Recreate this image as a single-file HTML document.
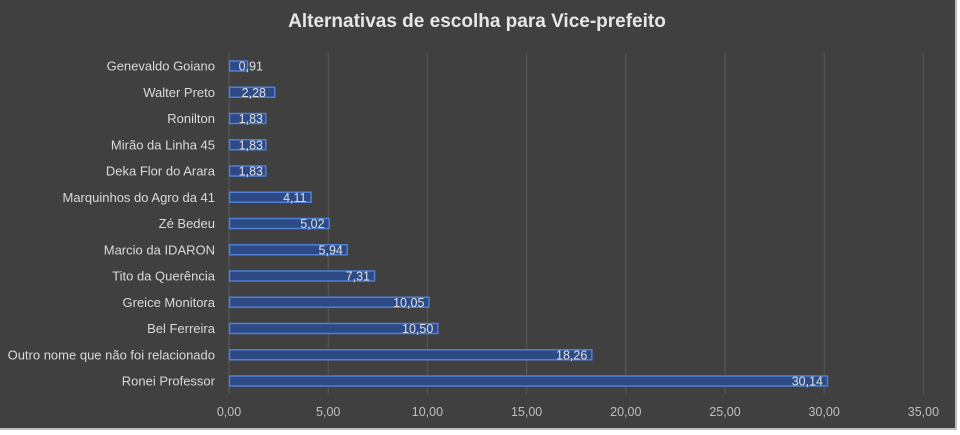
<!DOCTYPE html>
<html><head><meta charset="utf-8"><style>
html,body{margin:0;padding:0;background:#fff;}
svg{display:block;font-family:"Liberation Sans",sans-serif;}
</style></head><body>
<svg width="960" height="435" viewBox="0 0 960 435">
<rect x="0" y="0" width="956" height="429" fill="#404040"/>
<rect x="955" y="0" width="2" height="430" fill="#bfbfbf"/>
<rect x="0" y="428" width="957" height="2" fill="#bfbfbf"/>
<text x="477" y="27" text-anchor="middle" font-size="19" font-weight="bold" fill="#e6e6e6">Alternativas de escolha para Vice-prefeito</text>
<g stroke="#5a5a5a" stroke-width="1">
<line x1="229" y1="53" x2="229" y2="394"/>
<line x1="328.2" y1="53" x2="328.2" y2="394"/>
<line x1="427.4" y1="53" x2="427.4" y2="394"/>
<line x1="526.6" y1="53" x2="526.6" y2="394"/>
<line x1="625.8" y1="53" x2="625.8" y2="394"/>
<line x1="725" y1="53" x2="725" y2="394"/>
<line x1="824.2" y1="53" x2="824.2" y2="394"/>
<line x1="923.4" y1="53" x2="923.4" y2="394"/>
</g>
<g font-size="12.5" fill="#bfbfbf" text-anchor="middle">
<text x="229" y="416">0,00</text><text x="328.2" y="416">5,00</text><text x="427.4" y="416">10,00</text><text x="526.6" y="416">15,00</text><text x="625.8" y="416">20,00</text><text x="725" y="416">25,00</text><text x="824.2" y="416">30,00</text><text x="923.4" y="416">35,00</text>
</g>
<g font-size="13" fill="#d9d9d9" text-anchor="end">
<text x="215" y="70.5">Genevaldo Goiano</text>
<text x="215" y="96.75">Walter Preto</text>
<text x="215" y="123">Ronilton</text>
<text x="215" y="149.25">Mirão da Linha 45</text>
<text x="215" y="175.5">Deka Flor do Arara</text>
<text x="215" y="201.75">Marquinhos do Agro da 41</text>
<text x="215" y="228">Zé Bedeu</text>
<text x="215" y="254.25">Marcio da IDARON</text>
<text x="215" y="280.5">Tito da Querência</text>
<text x="215" y="306.75">Greice Monitora</text>
<text x="215" y="333">Bel Ferreira</text>
<text x="215" y="359.25">Outro nome que não foi relacionado</text>
<text x="215" y="385.5">Ronei Professor</text>
</g>
<g fill="#2d4a85" stroke="#4f7fd6" stroke-width="1.5">
<rect x="229.5" y="61" width="18.05" height="10"/>
<rect x="229.5" y="87.25" width="45.24" height="10"/>
<rect x="229.5" y="113.5" width="36.31" height="10"/>
<rect x="229.5" y="139.75" width="36.31" height="10"/>
<rect x="229.5" y="166" width="36.31" height="10"/>
<rect x="229.5" y="192.25" width="81.54" height="10"/>
<rect x="229.5" y="218.5" width="99.6" height="10"/>
<rect x="229.5" y="244.75" width="117.85" height="10"/>
<rect x="229.5" y="271" width="145.03" height="10"/>
<rect x="229.5" y="297.25" width="199.39" height="10"/>
<rect x="229.5" y="323.5" width="208.32" height="10"/>
<rect x="229.5" y="349.75" width="362.28" height="10"/>
<rect x="229.5" y="376" width="597.98" height="10"/>
</g>
<g font-size="12.5" fill="#e0e0e0" text-anchor="end">
<text x="263" y="70.5">0,91</text>
<text x="266" y="96.75">2,28</text>
<text x="263" y="123">1,83</text>
<text x="263" y="149.25">1,83</text>
<text x="263" y="175.5">1,83</text>
<text x="306.5" y="201.75">4,11</text>
<text x="324.6" y="228">5,02</text>
<text x="342.9" y="254.25">5,94</text>
<text x="370" y="280.5">7,31</text>
<text x="424.4" y="306.75">10,05</text>
<text x="433.3" y="333">10,50</text>
<text x="587.3" y="359.25">18,26</text>
<text x="823" y="385.5">30,14</text>
</g>
</svg>
</body></html>
